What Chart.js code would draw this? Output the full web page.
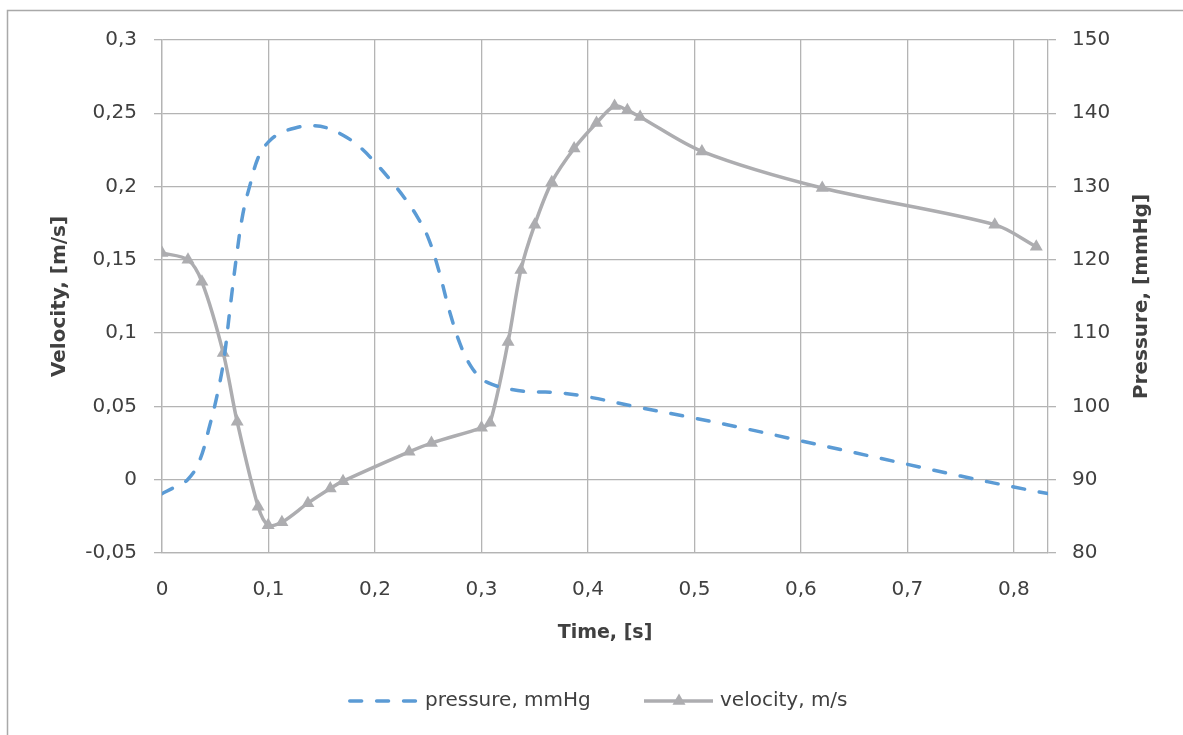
<!DOCTYPE html>
<html>
<head>
<meta charset="utf-8">
<script src="https://cdn.jsdelivr.net/npm/chart.js@4.4.0/dist/chart.umd.min.js"></script>
<style>
html, body { margin: 0; padding: 0; background: #fff; }
</style>
</head>
<body>
<canvas id="chart" width="1183" height="735"></canvas>
<script>
// velocity samples (time [s], velocity [m/s])
const velocityTime = [0, 0.0244, 0.0375, 0.0575, 0.0706, 0.0903, 0.0997, 0.1126, 0.137, 0.158, 0.170,
    0.232, 0.253, 0.300, 0.308, 0.325, 0.337, 0.350, 0.366, 0.387, 0.408, 0.425, 0.437, 0.449,
    0.507, 0.620, 0.782, 0.821];
const velocity = [0.1547, 0.150, 0.135, 0.0865, 0.0395, -0.0185, -0.031, -0.029, -0.016, -0.006, -0.001,
    0.019, 0.025, 0.0354, 0.0388, 0.094, 0.143, 0.174, 0.203, 0.226, 0.2434, 0.255, 0.252, 0.2475,
    0.224, 0.199, 0.174, 0.159];

// pressure samples (time [s], pressure [mmHg])
const pressureTime = [0, 0.012, 0.024, 0.035, 0.045, 0.052, 0.058, 0.064, 0.070, 0.076, 0.083, 0.091,
    0.1, 0.11, 0.125, 0.14, 0.155, 0.17, 0.185, 0.2, 0.215, 0.23, 0.24, 0.25, 0.26, 0.27, 0.28,
    0.29, 0.3, 0.31, 0.325, 0.345, 0.37, 0.4, 0.45, 0.5, 0.55, 0.6, 0.65, 0.7, 0.75, 0.8, 0.832];
const pressure = [88.1, 89.0, 90.0, 92.5, 97.5, 101.7, 106.3, 113.5, 120.5, 126.3, 130.4, 134.2,
    136.1, 137.2, 138.0, 138.3, 138.0, 137.0, 135.5, 133.3, 130.8, 128.0, 125.8, 123.0, 118.5, 113.0, 108.5,
    105.5, 103.8, 103.0, 102.4, 102.0, 101.9, 101.3, 99.8, 98.4, 96.9, 95.3, 93.7, 92.1, 90.5, 89.0, 88.1];

const timeTicks = [0, 0.1, 0.2, 0.3, 0.4, 0.5, 0.6, 0.7, 0.8];
const velocityTicks = [-0.05, 0, 0.05, 0.1, 0.15, 0.2, 0.25, 0.3];
const pressureTicks = [80, 90, 100, 110, 120, 130, 140, 150];

const blue = '#5b9bd5';
const gray = '#adadb0';
const gridColor = '#b4b4b4';
const textColor = '#404040';
const fontFamily = '"DejaVu Sans", sans-serif';

function fmt(v) {
    return (Math.round(v * 100) / 100).toString().replace('.', ',');
}

function toPoints(xs, ys) {
    const pts = [];
    for (let i = 0; i < xs.length; i++) {
        pts.push({x: xs[i], y: ys[i]});
    }
    return pts;
}

function setTicks(values) {
    return function(scale) {
        scale.ticks = values.map(v => ({value: v}));
    };
}

// outer frame of the chart
const framePlugin = {
    id: 'frame',
    beforeDraw(chart) {
        const ctx = chart.ctx;
        ctx.save();
        ctx.strokeStyle = '#a9a9a9';
        ctx.lineWidth = 1.5;
        ctx.strokeRect(7.5, 10.5, 1300, 800);
        ctx.restore();
    }
};

// legend + right axis title drawn by hand (the right title reads bottom to top)
const legendPlugin = {
    id: 'customLegend',
    afterDraw(chart) {
        const ctx = chart.ctx;
        const y = 701;
        ctx.save();
        ctx.lineWidth = 3.5;
        ctx.lineCap = 'round';
        ctx.strokeStyle = blue;
        ctx.setLineDash([11.9, 15]);
        ctx.beginPath();
        ctx.moveTo(349.75, y);
        ctx.lineTo(415.5, y);
        ctx.stroke();

        ctx.setLineDash([]);
        ctx.lineCap = 'butt';
        ctx.strokeStyle = gray;
        ctx.beginPath();
        ctx.moveTo(644, y);
        ctx.lineTo(713, y);
        ctx.stroke();

        const r = 7.5;
        ctx.fillStyle = gray;
        ctx.beginPath();
        ctx.moveTo(679, y - r);
        ctx.lineTo(679 + r * Math.sin(2 * Math.PI / 3), y - r * Math.cos(2 * Math.PI / 3));
        ctx.lineTo(679 - r * Math.sin(2 * Math.PI / 3), y - r * Math.cos(2 * Math.PI / 3));
        ctx.closePath();
        ctx.fill();

        ctx.fillStyle = textColor;
        ctx.font = '20px ' + fontFamily;
        ctx.textBaseline = 'middle';
        ctx.textAlign = 'left';
        ctx.fillText('pressure, mmHg', 425, y);
        ctx.fillText('velocity, m/s', 720, y);

        const area = chart.chartArea;
        ctx.translate(1142, (area.top + area.bottom) / 2);
        ctx.rotate(-Math.PI / 2);
        ctx.textAlign = 'center';
        ctx.font = 'bold 20px ' + fontFamily;
        ctx.fillText('Pressure, [mmHg]', 0, 0);
        ctx.restore();
    }
};

new Chart(document.getElementById('chart'), {
    type: 'line',
    data: {
        datasets: [{
            label: 'pressure, mmHg',
            data: toPoints(pressureTime, pressure),
            yAxisID: 'yP',
            borderColor: blue,
            borderWidth: 3.5,
            borderDash: [11.9, 15],
            borderCapStyle: 'round',
            pointRadius: 0,
            tension: 0.4,
            fill: false
        }, {
            label: 'velocity, m/s',
            data: toPoints(velocityTime, velocity),
            yAxisID: 'yV',
            borderColor: gray,
            backgroundColor: gray,
            borderWidth: 3.5,
            pointStyle: 'triangle',
            pointRadius: 7.5,
            pointBorderWidth: 0,
            pointBackgroundColor: gray,
            tension: 0.3,
            fill: false
        }]
    },
    options: {
        responsive: false,
        animation: false,
        devicePixelRatio: 1,
        layout: {padding: {top: 40, left: 0, right: 0, bottom: 0}},
        plugins: {
            legend: {display: false},
            tooltip: {enabled: false}
        },
        scales: {
            x: {
                type: 'linear',
                min: 0,
                max: 0.832,
                afterBuildTicks: setTicks(timeTicks),
                afterFit(scale) { scale.height = 182; },
                grid: {color: gridColor, lineWidth: 1.3, drawTicks: false},
                border: {color: gridColor, width: 1.3},
                ticks: {
                    padding: 25,
                    color: textColor,
                    font: {family: fontFamily, size: 20},
                    maxRotation: 0,
                    callback: v => fmt(v)
                },
                title: {
                    display: true,
                    text: 'Time, [s]',
                    color: textColor,
                    font: {family: fontFamily, size: 19, weight: 'bold'},
                    padding: {top: 0, bottom: 91}
                }
            },
            yV: {
                type: 'linear',
                position: 'left',
                min: -0.05,
                max: 0.3,
                afterBuildTicks: setTicks(velocityTicks),
                afterFit(scale) { scale.width = 162; },
                grid: {color: gridColor, lineWidth: 1.3, tickLength: 8},
                border: {color: gridColor, width: 1.3},
                ticks: {
                    padding: 17,
                    color: textColor,
                    font: {family: fontFamily, size: 20},
                    callback: v => fmt(v)
                },
                title: {
                    display: true,
                    text: 'Velocity, [m/s]',
                    color: textColor,
                    font: {family: fontFamily, size: 20, weight: 'bold'},
                    padding: {top: 48, bottom: 0}
                }
            },
            yP: {
                type: 'linear',
                position: 'right',
                min: 80,
                max: 150,
                afterBuildTicks: setTicks(pressureTicks),
                afterFit(scale) { scale.width = 135; },
                grid: {color: gridColor, lineWidth: 1.3, tickLength: 8, drawOnChartArea: false},
                border: {color: gridColor, width: 1.3},
                ticks: {
                    padding: 16,
                    color: textColor,
                    font: {family: fontFamily, size: 20},
                    callback: v => String(v)
                },
                title: {display: false}
            }
        }
    },
    plugins: [framePlugin, legendPlugin]
});
</script>
</body>
</html>
